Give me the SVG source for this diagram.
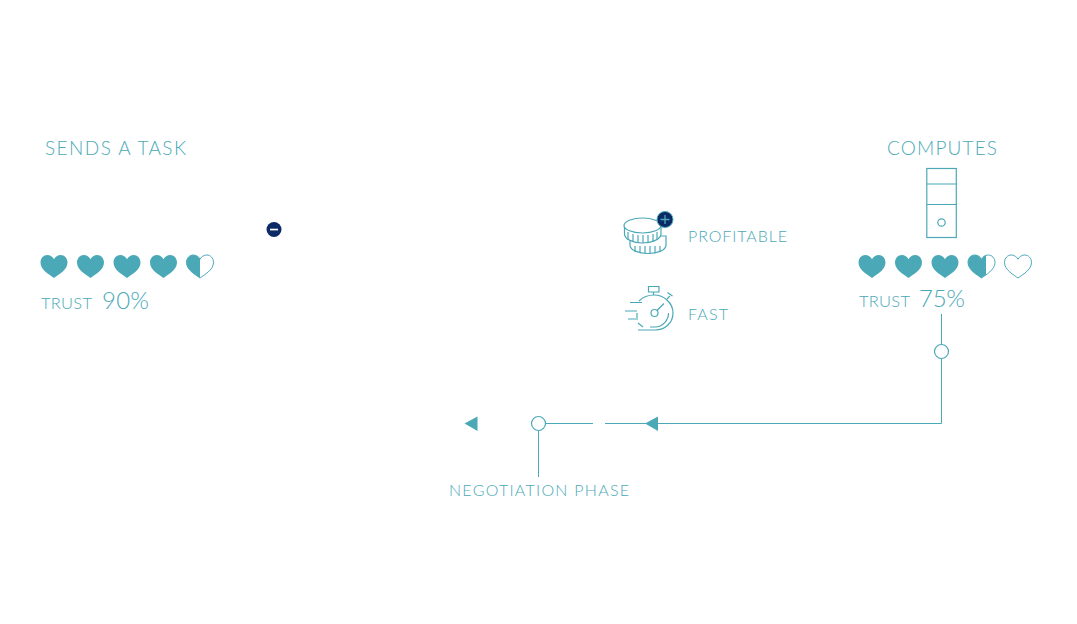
<svg xmlns="http://www.w3.org/2000/svg" width="1077" height="624" viewBox="0 0 1077 624">
<style>
text{font-family:"Lato","Open Sans",sans-serif;font-weight:300;fill:#4ba9b7}
.t{font-size:19px}
.m{font-size:16px}
.n{font-size:24px}
.s{font-size:16.500px}
.l{fill:none;stroke:#4ba9b7;stroke-width:1}
.i{fill:none;stroke:#4ba9b7;stroke-width:1.200}
.f{fill:#4ba9b7}
.c{fill:#fff;stroke:#4ba9b7;stroke-width:1.200}
.w{fill:#fff;stroke:#4ba9b7;stroke-width:1.200}
</style>
<defs>
<path id="h" d="M0 23C-4 20-13.500 15-13.500 7.500C-13.500 3-10.300 0-6.800 0C-3.800 0-1.300 1.800 0 4.200C1.300 1.800 3.800 0 6.800 0C10.300 0 13.500 3 13.500 7.500C13.500 15 4 20 0 23Z"/>
<path id="hl" d="M0 23C-4 20-13.500 15-13.500 7.500C-13.500 3-10.300 0-6.800 0C-3.800 0-1.300 1.800 0 4.200Z"/>
<path id="hl2" d="M0 23C-4 20-13.500 15-13.500 7.500C-13.500 3-10.300 0-6.800 0C-3.800 0-1.300 1.800 0 4.200C1.300 1.800 3 .5 4.500 .2L4.500 19.800C2.500 21 1 22.200 0 23Z"/>
</defs>

<g id="connectors">
<path class="l" d="M941.500 314V423.500H605"/>
<path class="l" d="M593 423.500H545"/>
<path class="l" d="M538.500 430V477"/>
<polygon class="f" points="645,423.500 658,416.500 658,431"/>
<polygon class="f" points="464.500,423.500 477.500,416.500 477.500,431"/>
<circle class="c" cx="941.500" cy="351.500" r="7"/>
<circle class="c" cx="538.500" cy="423.500" r="7"/>
</g>

<g id="sender">
<text class="t" x="45" y="155" textLength="141">SENDS A TASK</text>
<circle cx="274" cy="229.500" r="7.500" fill="#0b2a66"/>
<rect x="270" y="228.700" width="8" height="1.700" fill="#fff"/>
<use href="#h" class="f" x="54" y="255"/>
<use href="#h" class="f" x="90.500" y="255"/>
<use href="#h" class="f" x="127" y="255"/>
<use href="#h" class="f" x="163.500" y="255"/>
<use href="#h" class="l" x="200" y="255"/>
<use href="#hl" class="f" x="200" y="255"/>
<text class="s" x="41" y="309" textLength="51">TRUST</text>
<text class="n" x="102" y="309" textLength="47">90%</text>
</g>

<g id="profitable">
<path class="w" d="M630 236V245C630 250 638 253.500 648 253.500C658 253.500 666 250 666 245V236Z"/>
<path class="i" d="M635 246V252M640 246V253M645 246V253.500M650 246V253.500M655 246V253M660 246V252"/>
<path class="w" d="M624.500 226V234C624.500 239 633 243 642.500 243C652 243 661 239 661 234V226Z"/>
<ellipse class="w" cx="642.500" cy="225.500" rx="18.500" ry="7.500"/>
<path class="i" d="M628 232V240M633 234V242M638 235V243M643 235V243M648 235V243M653 234V242M657 232V240"/>
<circle cx="665" cy="219.500" r="8" fill="#0b2a66" stroke="#4ba9b7"/>
<path d="M660.500 219.500H669.500M665 215V224" stroke="#4ba9b7" stroke-width="1.300" fill="none"/>
<text class="m" x="688" y="242" textLength="99">PROFITABLE</text>
</g>

<g id="fast">
<g class="i">
<path d="M648.500 286.500H659V292H648.500Z"/>
<path d="M653.500 292V295"/>
<path d="M639 301C643 297 648 295 654 295C664 295 673 303 673 313C673 323 665 330 655 330H638"/>
<path d="M667 299L670 296M667.500 292.500L672.500 296"/>
<path d="M668.500 313C668.500 320 663 327 655 327H650"/>
<path d="M630 302.500H642M625 311H637M628 319H638"/>
<path d="M638 323L643 327M637 313V318"/>
<circle cx="654.500" cy="313" r="3.500"/>
<path d="M657 310.500L664 303.500"/>
</g>
<text class="m" x="688" y="320" textLength="40">FAST</text>
</g>

<g id="computes">
<text class="t" x="887" y="155" textLength="110">COMPUTES</text>
<g class="i">
<rect x="926.800" y="168.500" width="29.500" height="69"/>
<path d="M927 184H956M927 204.500H956"/>
<circle cx="941.500" cy="222.500" r="3.700"/>
</g>
<use href="#h" class="f" x="872" y="255"/>
<use href="#h" class="f" x="908.500" y="255"/>
<use href="#h" class="f" x="945" y="255"/>
<use href="#h" class="l" x="981.500" y="255"/>
<use href="#hl2" class="f" x="981.500" y="255"/>
<use href="#h" class="l" x="1018" y="255"/>
<text class="s" x="859" y="307" textLength="51">TRUST</text>
<text class="n" x="919" y="307" textLength="46">75%</text>
</g>

<g id="negotiation">
<text class="m" x="449" y="496" textLength="180">NEGOTIATION PHASE</text>
</g>
</svg>
